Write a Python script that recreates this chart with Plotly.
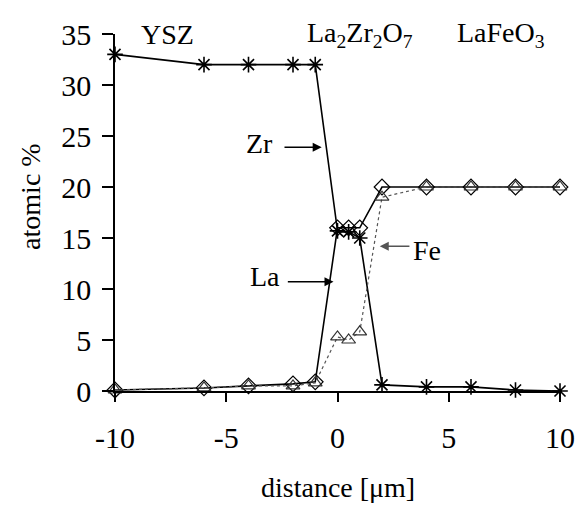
import plotly.graph_objects as go

x = [-10, -6, -4, -2, -1, 0, 0.5, 1, 2, 4, 6, 8, 10]
zr = [33, 32, 32, 32, 32, 15.7, 15.6, 15.0, 0.6, 0.4, 0.4, 0.1, 0.0]
la = [0.1, 0.3, 0.5, 0.7, 0.9, 16.0, 16.0, 16.0, 20.0, 20.0, 20.0, 20.0, 20.0]
fe = [0.1, 0.3, 0.5, 0.5, 0.8, 5.3, 5.0, 5.8, 19.0, 20.0, 20.0, 20.0, 20.0]

xticks = [-10, -5, 0, 5, 10]
yticks = [0, 5, 10, 15, 20, 25, 30, 35]

FONT = "Times New Roman, Liberation Serif, serif"
FT = 30   # tick labels
FA = 28   # annotations / titles

fig = go.Figure()
fig.add_trace(go.Scatter(x=x, y=la, mode="lines+markers", name="La",
                         line=dict(color="black", width=1.6),
                         marker=dict(symbol="diamond-open", size=12, color="black",
                                     line=dict(width=1.2)),
                         cliponaxis=False))
fig.add_trace(go.Scatter(x=x, y=zr, mode="lines+markers", name="Zr",
                         line=dict(color="black", width=1.6),
                         marker=dict(symbol="asterisk-open", size=13, color="black",
                                     line=dict(width=1.6, color="black")),
                         cliponaxis=False))
fig.add_trace(go.Scatter(x=x, y=fe, mode="lines+markers", name="Fe",
                         line=dict(color="#555555", width=1.2, dash="dot"),
                         marker=dict(symbol="triangle-up-open", size=12, color="#333333",
                                     line=dict(width=1.2)),
                         cliponaxis=False))

ann = []
for txt, xx in [("YSZ", -7.65), ("La<sub>2</sub>Zr<sub>2</sub>O<sub>7</sub>", 1.0),
                ("LaFeO<sub>3</sub>", 7.35)]:
    ann.append(dict(x=xx, y=35, xref="x", yref="y", text=txt, showarrow=False,
                    yanchor="middle", xanchor="center", font=dict(family=FONT, size=FA, color="black")))
for txt, xx, yy in [("Zr", -3.5, 24.3), ("La", -3.27, 11.2), ("Fe", 4.03, 13.8)]:
    ann.append(dict(x=xx, y=yy, xref="x", yref="y", text=txt, showarrow=False,
                    font=dict(family=FONT, size=FA, color="black")))
# arrows
for tip_x, tip_y, tail_x, color in [(-0.71, 23.9, -2.45, "black"), (-0.18, 10.7, -2.3, "black"),
                                    (1.9, 14.2, 3.3, "#555555")]:
    ann.append(dict(x=tip_x, y=tip_y, ax=tail_x, ay=tip_y, xref="x", yref="y", axref="x", ayref="y",
                    text="", showarrow=True, arrowhead=2, arrowsize=1.2, arrowwidth=1.5,
                    arrowcolor=color))
# axis titles
ann.append(dict(x=0.5, y=-0.27, xref="paper", yref="paper", text="distance [μm]", showarrow=False,
                xanchor="center", yanchor="middle", font=dict(family=FONT, size=FA, color="black")))
ann.append(dict(x=-0.19, y=0.545, xref="paper", yref="paper", text="atomic %", showarrow=False,
                textangle=-90, xanchor="center", yanchor="middle",
                font=dict(family=FONT, size=FA, color="black")))

fig.update_layout(
    width=587, height=509,
    margin=dict(l=115, r=20, t=34, b=118),
    paper_bgcolor="white", plot_bgcolor="white",
    showlegend=False,
    font=dict(family=FONT, size=FT, color="black"),
    annotations=ann,
    xaxis=dict(range=[-10, 10], tickvals=xticks, ticktext=[str(v) for v in xticks],
               tickfont=dict(family=FONT, size=FT, color="black"),
               showgrid=False, zeroline=False, showline=True, linecolor="black", linewidth=1.5,
               ticks="outside", ticklen=9, tickwidth=1.5, tickcolor="black",
               ticklabelstandoff=10),
    yaxis=dict(range=[0, 35], tickvals=yticks, showgrid=False, zeroline=False,
               tickfont=dict(family=FONT, size=FT, color="black"),
               showline=True, linecolor="black", linewidth=1.5,
               ticks="outside", ticklen=11, tickwidth=1.5, tickcolor="black",
               ticklabelstandoff=5),
)

fig.write_html("out.html")
